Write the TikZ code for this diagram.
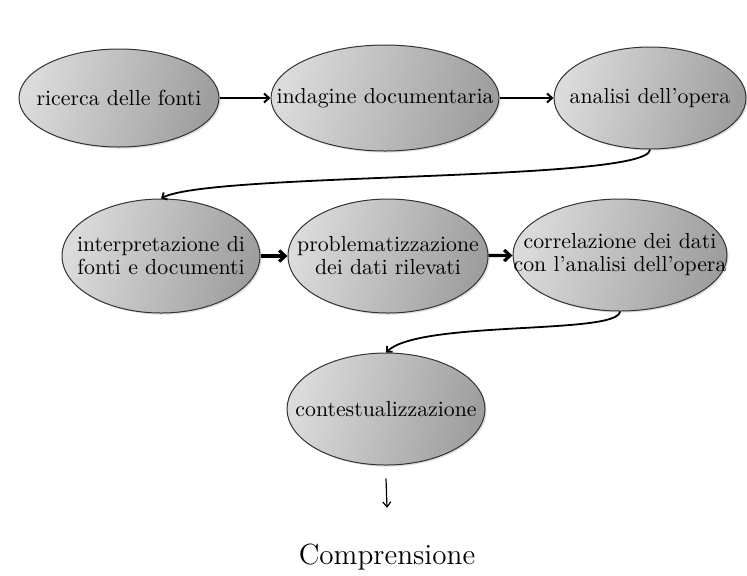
\documentclass[tikz,border=0pt]{standalone}
\usepackage{tikz}
\usetikzlibrary{positioning,shapes.geometric,arrows.meta,shadows}

\begin{document}
\begin{tikzpicture}[x=0.5pt,y=-0.5pt,
  fase/.style={ellipse, draw=black!80, line width=0.5pt, inner sep=0pt,
    left color=black!14, right color=black!38, shading angle=75,
    drop shadow={opacity=0.25,shadow xshift=0.8pt,shadow yshift=-0.8pt}},
  testo/.style={align=center, inner sep=0pt, font=\fontsize{10.9}{11.5}\selectfont},
  freccia/.style={-{Straight Barb[length=2.5pt,width=4.5pt]}, line width=1pt},
  freccia2/.style={-{Straight Barb[length=3pt,width=5.5pt]}, line width=1.6pt},
  curva/.style={-{Straight Barb[length=2pt,width=4pt]}, line width=0.9pt},
  freccina/.style={-{Straight Barb[length=2.5pt,width=4pt]}, line width=0.6pt}]
\useasboundingbox (0,0) rectangle (747,575);

	\node[fase, minimum width=100pt, minimum height=49pt,
	  label={[testo]center:ricerca delle fonti}] (fonti) at (119,98) {};
	\node[fase, minimum width=114pt, minimum height=53pt,
	  label={[testo]center:indagine documentaria}] (indagine) at (385,98) {};
	\node[fase, minimum width=96pt, minimum height=51pt,
	  label={[testo]center:analisi dell’opera}] (analisi) at (650,98) {};

	\node[fase, minimum width=99pt, minimum height=57pt,
	  label={[testo]center:interpretazione di\\fonti e documenti}] (interp) at (161,256) {};
	\node[fase, minimum width=100pt, minimum height=57pt,
	  label={[testo]center:problematizzazione\\dei dati rilevati}] (probl) at (388,256) {};
	\node[fase, minimum width=107pt, minimum height=56pt,
	  label={[testo]center:correlazione dei dati\\con l’analisi dell’opera}] (correl) at (620,255) {};

	\node[fase, minimum width=99pt, minimum height=56pt,
	  label={[testo]center:contestualizzazione}] (contest) at (386,409) {};
	\node[font=\fontsize{14.6}{17}\selectfont] (compr) at (387,557) {Comprensione};

	\draw[freccia] (fonti) -- (indagine);
	\draw[freccia] (indagine) -- (analisi);
	\draw[curva] (analisi.south) .. controls (650,182) and (210,172) .. (interp.north);
	\draw[freccia2] (interp) -- (probl);
	\draw[freccia2] (probl) -- (correl);
	\draw[curva] (correl.south) .. controls (618,335) and (420,320) .. (contest.north);
	%\draw[freccia] (contest) -- (compr);
	\draw[freccina] ([yshift=-6.5pt]contest.south) -- ([yshift=14.5pt]compr.north);
\end{tikzpicture}
\end{document}
